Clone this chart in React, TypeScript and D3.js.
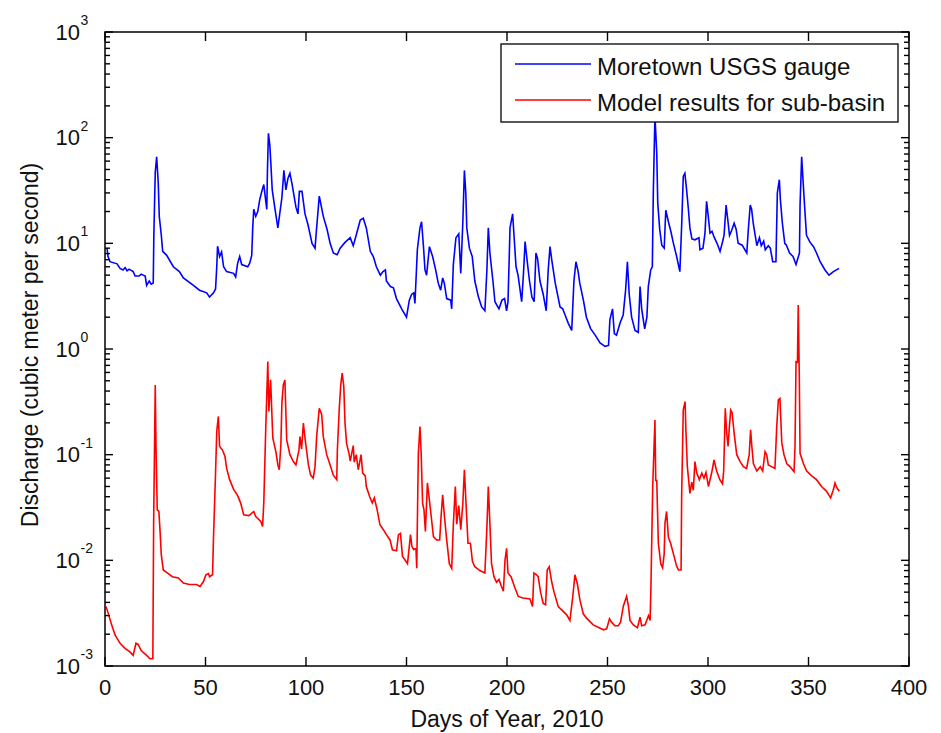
import { useEffect, useRef } from "react";
import * as d3 from "d3";

// Moretown USGS gauge, [day of year, discharge m3/s]
const gauge: [number, number][] = [
  [1, 9], [1.5, 7.5], [2.5, 6.7], [6, 6.4], [7.5, 5.8], [9, 5.6], [10, 5.9], [11, 5.5], [12, 5.7], [14, 5.4],
  [15, 4.9], [17, 4.9], [18, 5.1], [19, 5.0], [20, 4.9], [20.7, 4.0], [22, 4.4], [23, 4.1], [24, 4.2], [24.3, 12],
  [25, 47], [25.7, 66], [26.5, 37], [27, 18], [28, 12], [28.7, 8.4], [30.7, 7.7], [34, 6.0], [37, 5.4], [39, 4.7],
  [44, 4.0], [47, 3.6], [50.6, 3.4], [52, 3.1], [54, 3.4], [55, 3.7], [55.6, 6], [56, 9.4], [57, 7.5], [58, 8.3],
  [59, 6], [60.5, 5.4], [64, 5.2], [65, 4.8], [66, 6.5], [67, 7.5], [68, 6.3], [71, 6], [72, 6.5], [73, 7.7],
  [73.5, 14], [74, 21], [75, 18], [76, 20], [77, 26], [78, 31], [79, 36], [80, 25], [80.5, 21], [80.8, 47],
  [81.3, 110], [82, 85], [82.6, 53], [83.2, 32], [84.6, 21], [86, 14], [88, 27], [89, 49], [90, 32], [91, 41],
  [92, 46], [93, 37], [95, 22], [96, 19], [96.7, 31], [98, 31], [99.5, 19], [101, 15], [103, 10], [104.5, 9.0],
  [105, 12], [106.6, 28], [107.3, 24], [108.6, 18], [110.5, 13.5], [112, 10], [113.6, 8.1], [115.5, 7.8], [117, 9.0], [119.4, 10.2],
  [122, 11.3], [123.5, 9.5], [125, 12], [127, 16.6], [128.5, 17.3], [130, 14], [132, 8.4], [133.5, 7.5], [135, 6], [137, 5],
  [138.3, 5.4], [139.5, 5.6], [140, 4.4], [142, 3.9], [143.5, 3.8], [145, 3.0], [147.6, 2.4], [150, 2.0], [151.4, 2.9], [152.6, 3.3],
  [153.6, 3.4], [154.2, 2.7], [155.4, 8.7], [156.7, 14], [157.5, 16], [158.5, 9], [159.2, 5.6], [160, 5], [161.4, 9.3], [163, 7.5],
  [164.5, 5.6], [165.8, 4.2], [167, 3.6], [168, 4.7], [168.8, 4.2], [170, 3.0], [172, 2.9], [172.5, 2.4], [173.3, 6.3], [174.6, 11.3],
  [176, 12.3], [177, 5.2], [178, 15.5], [178.8, 49], [179.5, 30], [180, 14], [181.3, 9], [182.7, 7.5], [184, 4.4], [185.8, 3.1],
  [187.4, 2.5], [189, 2.3], [190, 5.6], [190.7, 14], [191.5, 8.1], [193, 4.4], [194, 2.8], [196, 2.4], [197.5, 2.9], [198.8, 3.0],
  [199.8, 2.3], [200.5, 2.8], [201.5, 14], [202.8, 19], [203.6, 11], [204.5, 6], [205.5, 5], [207.3, 2.8], [208.2, 5.2], [209, 10.4],
  [210, 6.9], [211.2, 4.4], [212.4, 3.1], [213.5, 2.8], [214.4, 8.1], [215.2, 7.2], [216.4, 4.4], [218, 3.3], [219.5, 2.3], [220.5, 5.6],
  [221.4, 9.3], [222.3, 6.9], [224, 4.2], [226.4, 2.5], [227.7, 2.4], [228.9, 2.1], [230.5, 1.75], [232.2, 1.5], [233.3, 4.4], [234.3, 6.7],
  [235.4, 5.4], [236.2, 4.2], [238, 2.9], [239.5, 2.0], [241.6, 1.56], [243.8, 1.36], [246.3, 1.14], [248.8, 1.06], [250.5, 1.08], [251.2, 1.9],
  [252.5, 2.4], [253.4, 1.4], [254.5, 1.35], [256.2, 1.75], [257.8, 2.1], [259, 3.6], [259.9, 6.7], [260.8, 3.3], [262, 2.0], [263.7, 1.5],
  [265.3, 1.44], [266.2, 3.9], [267, 2.4], [268.5, 1.55], [269.6, 2.0], [270.3, 3.9], [271.5, 5.6], [272.3, 6.0], [272.8, 31], [273.6, 160],
  [274.5, 72], [275, 24], [276, 13.4], [277, 9.6], [278.2, 9.0], [279, 20.6], [280.3, 16], [281.5, 13], [282.8, 10], [284.4, 7.5],
  [286, 5.4], [286.9, 14.9], [287.7, 43], [288.5, 46], [289.3, 33], [290.2, 21.5], [291, 14], [292, 11], [293.5, 10.8], [295.5, 11.3],
  [296, 8.7], [297.5, 9], [298.5, 12.5], [299.3, 25], [300, 19], [301, 12.5], [302, 13], [303, 11.5], [304.5, 10], [306, 8.4],
  [307.5, 10.8], [308, 12], [309, 23], [309.8, 17], [310.7, 11.9], [311.8, 13.3], [313, 15.5], [314, 13.6], [315, 10], [317, 9.6],
  [319.3, 8.1], [320, 13], [321, 23], [321.7, 21], [322.5, 15.5], [323.5, 11.8], [324.3, 9.5], [325.6, 11.3], [326.5, 9.5], [327.7, 10.5],
  [328.5, 8.7], [330, 9.5], [331, 9], [332.2, 6.7], [333.8, 6.7], [334.5, 30], [335.5, 40], [336, 26], [337, 15.5], [338.2, 10],
  [339, 9.6], [340.6, 8.1], [342.3, 7.5], [343.8, 6.3], [345.5, 8.1], [345.8, 23], [346.6, 66], [347.3, 39], [348.3, 19], [349, 11.9],
  [350.8, 10.2], [352.5, 9.3], [354, 8.1], [355.8, 6.7], [358.2, 5.6], [360.2, 5.0], [362.4, 5.4], [365.2, 5.8],
];

// Model results for sub-basin, [day of year, discharge m3/s]
const model: [number, number][] = [
  [0.5, 0.00366], [1.5, 0.0032], [3.3, 0.00245], [5, 0.00197], [7.5, 0.00164], [10, 0.00147], [12.4, 0.00136], [14, 0.00126], [15.4, 0.00164], [16.5, 0.0016],
  [18, 0.0014], [20.7, 0.00126], [22.4, 0.00117], [23.8, 0.00117], [24.2, 0.0225], [25, 0.457], [25.4, 0.111], [26, 0.03], [26.8, 0.029], [27.4, 0.0188],
  [28, 0.0113], [29, 0.0081], [31, 0.0076], [33.5, 0.007], [36.5, 0.0068], [39, 0.0061], [42, 0.0059], [45.5, 0.0059], [47.3, 0.00565], [49, 0.0063],
  [50.2, 0.0073], [51.5, 0.0075], [52, 0.007], [53.5, 0.0073], [54, 0.0168], [55, 0.067], [55.6, 0.166], [56.4, 0.23], [57, 0.12], [58.5, 0.11],
  [59.7, 0.096], [60.5, 0.0745], [62, 0.058], [64, 0.047], [66, 0.041], [67.5, 0.0348], [69, 0.027], [71.6, 0.0265], [74, 0.029], [75, 0.026],
  [77.5, 0.0233], [78.4, 0.0209], [79, 0.035], [80, 0.185], [81, 0.76], [81.5, 0.256], [82.4, 0.51], [83, 0.25], [83.5, 0.143], [85, 0.107],
  [86, 0.08], [86.7, 0.072], [87.5, 0.124], [88, 0.307], [88.7, 0.457], [89.5, 0.51], [90.4, 0.138], [92, 0.1], [93.7, 0.086], [95, 0.08],
  [96.5, 0.111], [97, 0.148], [97.8, 0.113], [98.7, 0.199], [99.6, 0.138], [101.2, 0.08], [102.3, 0.064], [103.6, 0.06], [104.5, 0.077], [105.3, 0.148],
  [106.6, 0.275], [107.8, 0.24], [108.6, 0.148], [110.3, 0.1], [112, 0.08], [113.6, 0.064], [115.3, 0.058], [115.6, 0.11], [116.6, 0.285], [117.3, 0.457],
  [118, 0.59], [118.8, 0.44], [119.4, 0.2], [120.2, 0.128], [121.5, 0.1], [122, 0.087], [123.5, 0.122], [124, 0.085], [125, 0.1], [126, 0.072],
  [127.4, 0.1], [128.2, 0.067], [129.5, 0.063], [130, 0.05], [131.7, 0.04], [133, 0.035], [134, 0.039], [135.4, 0.03], [136.8, 0.0217], [138.5, 0.0195],
  [140, 0.0175], [141.8, 0.0156], [143, 0.0126], [145, 0.0123], [146, 0.0175], [147, 0.018], [148, 0.0109], [149.7, 0.0098], [150.5, 0.0093], [152, 0.0175],
  [152.7, 0.0135], [153.6, 0.0126], [154.7, 0.013], [155.1, 0.0084], [155.4, 0.0225], [155.9, 0.103], [156.7, 0.185], [157.3, 0.103], [158, 0.0348], [158.7, 0.03],
  [159.4, 0.0188], [160.4, 0.054], [161, 0.043], [161.7, 0.033], [163.4, 0.0168], [165, 0.0156], [166.5, 0.0156], [167.2, 0.0259], [168, 0.0417], [168.8, 0.027],
  [170, 0.0156], [171.3, 0.0093], [172.5, 0.0084], [173.3, 0.0217], [174.3, 0.05], [175, 0.022], [176, 0.033], [177, 0.0195], [178, 0.034], [178.8, 0.072],
  [179.6, 0.035], [180.6, 0.0145], [181.8, 0.0145], [182.8, 0.0098], [184, 0.0087], [186.5, 0.008], [189, 0.0076], [190, 0.0205], [190.7, 0.05], [191.5, 0.022],
  [192.3, 0.0093], [193.5, 0.007], [194.8, 0.0062], [196, 0.0066], [197, 0.0058], [198.2, 0.0051], [199, 0.01], [199.8, 0.013], [200.5, 0.0076], [202, 0.007],
  [203.8, 0.0056], [205.6, 0.00455], [208, 0.0044], [211.4, 0.0043], [212.7, 0.00366], [213.4, 0.0076], [214.7, 0.0073], [215.5, 0.007], [216.7, 0.005], [218, 0.0039],
  [219.2, 0.0038], [220, 0.0081], [221, 0.0087], [222.2, 0.0063], [223.4, 0.005], [225.5, 0.00366], [227.2, 0.0034], [229.7, 0.00305], [231.3, 0.0027], [232.7, 0.0045],
  [233.8, 0.0073], [235, 0.006], [236.3, 0.0042], [238, 0.0031], [239.6, 0.00284], [242.9, 0.00245], [248, 0.0022], [249.6, 0.00225], [251, 0.0028], [252, 0.0026],
  [253.7, 0.0024], [255.3, 0.0024], [256.5, 0.0026], [257.9, 0.0037], [259.5, 0.00455], [260.4, 0.0037], [261.2, 0.0027], [262.9, 0.00245], [264.9, 0.0023], [266.2, 0.0029],
  [267, 0.0024], [268.7, 0.00245], [270.4, 0.003], [271.2, 0.0027], [271.6, 0.00546], [272.5, 0.05], [273.6, 0.213], [274, 0.057], [274.5, 0.057], [275.3, 0.0145],
  [276.5, 0.0093], [277.4, 0.0085], [278.2, 0.0115], [278.6, 0.0225], [279.4, 0.029], [280.3, 0.0165], [281.4, 0.0145], [282.8, 0.0115], [284.4, 0.0088], [285.3, 0.0081],
  [286.6, 0.0081], [286.9, 0.0417], [287.7, 0.265], [288.6, 0.318], [289, 0.17], [289.7, 0.078], [291, 0.043], [291.9, 0.055], [292.7, 0.046], [293.5, 0.086],
  [294.4, 0.067], [295.7, 0.058], [296.9, 0.067], [298, 0.06], [299, 0.068], [300.2, 0.05], [301.8, 0.067], [303, 0.089], [304.3, 0.07], [305.9, 0.058],
  [307.2, 0.053], [307.8, 0.07], [308.6, 0.275], [309.3, 0.16], [310, 0.12], [310.6, 0.18], [311.3, 0.265], [312, 0.25], [313, 0.16], [314.3, 0.1],
  [316, 0.086], [317.6, 0.077], [319.2, 0.074], [320.5, 0.1], [321.2, 0.172], [321.8, 0.12], [322.6, 0.082], [324.3, 0.07], [326, 0.077], [327.2, 0.07],
  [328.4, 0.107], [329.2, 0.1], [330, 0.08], [331.6, 0.077], [333.3, 0.074], [334.2, 0.185], [335, 0.33], [335.8, 0.34], [336.7, 0.13], [337.8, 0.1],
  [339.2, 0.082], [340.8, 0.077], [342.8, 0.069], [343.3, 0.12], [343.8, 0.76], [344.5, 0.75], [344.9, 2.61], [345.4, 0.6], [345.8, 0.103], [347.5, 0.082],
  [349.1, 0.07], [351.6, 0.063], [354, 0.058], [356.5, 0.05], [359, 0.045], [361, 0.039], [362.3, 0.046], [363.2, 0.054], [364, 0.049], [365.3, 0.045],
];

const xTickValues = [0, 50, 100, 150, 200, 250, 300, 350, 400];
const yExponents = [-3, -2, -1, 0, 1, 2, 3];
const seriesLabels = ["Moretown USGS gauge", "Model results for sub-basin"];
const seriesColors = ["#0000ff", "#ff0000"];

const W = 941;
const H = 733;
const margin = { left: 105, right: 32, top: 32, bottom: 67 };
const FONT = "'Liberation Sans', Arial, Helvetica, sans-serif";

export default function App() {
  const svgRef = useRef<SVGSVGElement>(null);

  useEffect(() => {
    document.body.style.margin = "0";
    const svg = d3.select(svgRef.current);
    svg.selectAll("*").remove();

    const x0 = margin.left, x1 = W - margin.right;
    const y0 = margin.top, y1 = H - margin.bottom;

    const x = d3.scaleLinear().domain([0, 400]).range([x0, x1]);
    const y = d3.scaleLog().domain([1e-3, 1e3]).range([y1, y0]);

    svg.append("rect").attr("width", W).attr("height", H).attr("fill", "#fff");

    const line = d3.line<[number, number]>()
      .x(d => x(d[0]))
      .y(d => y(d[1]));

    const lines = svg.append("g");
    [gauge, model].forEach((s, i) => {
      lines.append("path")
        .attr("d", line(s))
        .attr("fill", "none")
        .attr("stroke", seriesColors[i])
        .attr("stroke-width", 1.6)
        .attr("stroke-linejoin", "miter");
    });

    const ax = svg.append("g").attr("stroke", "#000").attr("stroke-width", 1.4);

    // x ticks, inward on bottom and top
    xTickValues.forEach(t => {
      const px = x(t);
      ax.append("line").attr("x1", px).attr("x2", px).attr("y1", y1).attr("y2", y1 - 9);
      ax.append("line").attr("x1", px).attr("x2", px).attr("y1", y0).attr("y2", y0 + 9);
      svg.append("text")
        .attr("x", px).attr("y", 695)
        .attr("text-anchor", "middle")
        .attr("font-family", FONT).attr("font-size", 22)
        .attr("fill", "#111")
        .text(t);
    });

    // y ticks: majors at decades, minors 2..9
    y.ticks().forEach(t => {
      const e = Math.log10(t);
      const major = Math.abs(e - Math.round(e)) < 1e-9;
      const len = major ? 8 : 5;
      const py = y(t);
      ax.append("line").attr("x1", x0).attr("x2", x0 + len).attr("y1", py).attr("y2", py);
      ax.append("line").attr("x1", x1).attr("x2", x1 - len).attr("y1", py).attr("y2", py);
    });

    yExponents.forEach(e => {
      const py = y(Math.pow(10, e));
      svg.append("text")
        .attr("x", 80).attr("y", py + 7.5)
        .attr("text-anchor", "end")
        .attr("font-family", FONT).attr("font-size", 22)
        .attr("fill", "#111")
        .text("10");
      svg.append("text")
        .attr("x", 80.5).attr("y", py - 7)
        .attr("font-family", FONT).attr("font-size", 14)
        .attr("fill", "#111")
        .text(e);
    });

    // frame
    svg.append("rect")
      .attr("x", x0).attr("y", y0)
      .attr("width", x1 - x0).attr("height", y1 - y0)
      .attr("fill", "none").attr("stroke", "#000").attr("stroke-width", 1.5);

    // axis labels
    svg.append("text")
      .attr("x", (x0 + x1) / 2).attr("y", 727)
      .attr("text-anchor", "middle")
      .attr("font-family", FONT).attr("font-size", 23)
      .attr("fill", "#111")
      .text("Days of Year, 2010");

    svg.append("text")
      .attr("transform", `translate(38,345) rotate(-90)`)
      .attr("text-anchor", "middle")
      .attr("font-family", FONT).attr("font-size", 23)
      .attr("fill", "#111")
      .text("Discharge (cubic meter per second)");

    // legend
    const lg = svg.append("g");
    lg.append("rect")
      .attr("x", 501).attr("y", 44)
      .attr("width", 397).attr("height", 78)
      .attr("fill", "#fff").attr("stroke", "#000").attr("stroke-width", 1.3);
    seriesLabels.forEach((label, i) => {
      const ly = 64 + i * 36;
      lg.append("line")
        .attr("x1", 515).attr("x2", 591)
        .attr("y1", ly).attr("y2", ly)
        .attr("stroke", seriesColors[i]).attr("stroke-width", 1.6);
      lg.append("text")
        .attr("x", 597).attr("y", ly + 10.5)
        .attr("font-family", FONT).attr("font-size", 24)
        .attr("fill", "#111")
        .text(label);
    });
  }, []);

  return <svg ref={svgRef} width={W} height={H} style={{ display: "block" }} />;
}
